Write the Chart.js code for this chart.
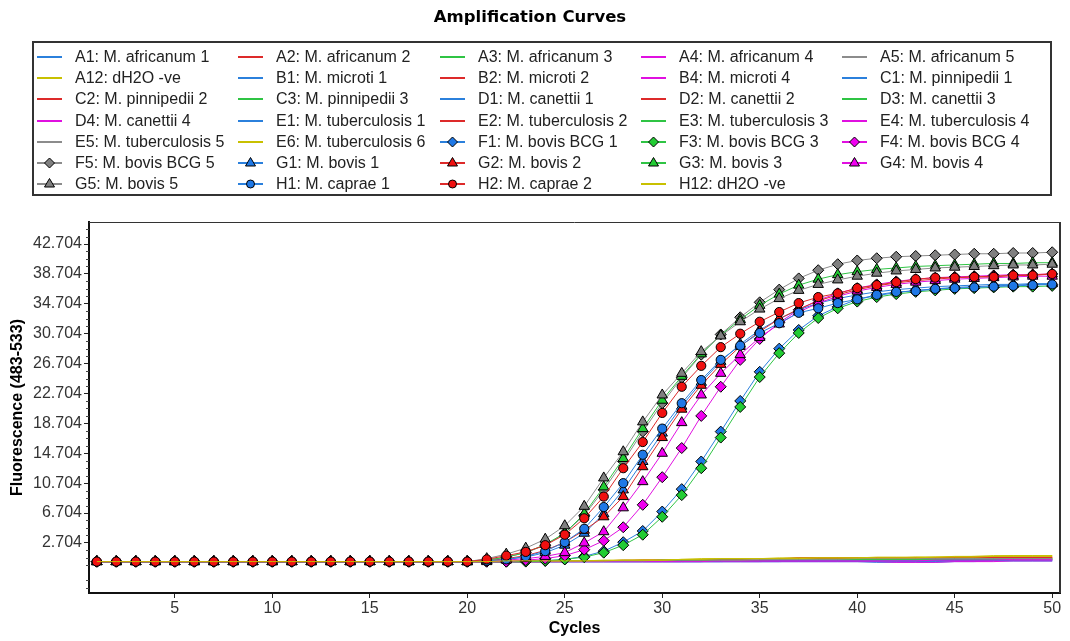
<!DOCTYPE html>
<html lang="en">
<head>
<meta charset="UTF-8">
<title>Amplification Curves</title>
<script src="https://cdn.jsdelivr.net/npm/chart.js"></script>
<style>
    body {
        margin: 0;
        background: #fff;
        font-family: 'Liberation Sans', Arial, sans-serif;
    }
    .wrap {
        position: relative;
        width: 1070px;
        height: 641px;
    }
    #chart {
        position: absolute;
        left: 0;
        top: 0;
    }
    .legend {
        position: absolute;
        left: 32px;
        top: 41px;
        width: 1020px;
        height: 155px;
        border: 2px solid #333;
        box-sizing: border-box;
    }
    .legend-item {
        position: absolute;
        height: 20px;
        line-height: 20px;
        font-size: 16px;
        color: #222;
        white-space: nowrap;
    }
    .legend-item canvas {
        position: absolute;
        left: 0;
        top: 3px;
    }
    .legend-item span {
        position: absolute;
        left: 38px;
        top: 0;
    }
</style>
</head>
<body>
<div class="wrap">
    <canvas id="chart" width="1070" height="641"></canvas>
    <div class="legend" id="legend"></div>
</div>

<script>
// cycles on the x axis
const cycles = [1,2,3,4,5,6,7,8,9,10,11,12,13,14,15,16,17,18,19,20,
                21,22,23,24,25,26,27,28,29,30,31,32,33,34,35,36,37,38,39,40,
                41,42,43,44,45,46,47,48,49,50];
const xTicks = [5, 10, 15, 20, 25, 30, 35, 40, 45, 50];
const yTicks = [2.704, 6.704, 10.704, 14.704, 18.704, 22.704, 26.704, 30.704, 34.704, 38.704, 42.704];

// negative / non-bovis samples (flat lines)
const a1 = [0.2,0.2,0.2,0.2,0.2,0.2,0.2,0.2,0.2,0.2, 0.2,0.2,0.2,0.2,0.2,0.2,0.2,0.2,0.2,0.2,
            0.2,0.2,0.2,0.2,0.2,0.2,0.2,0.2,0.2,0.2, 0.2,0.2,0.2,0.3,0.3,0.3,0.3,0.3,0.3,0.3,
            0.3,0.3,0.3,0.3,0.4,0.4,0.4,0.4,0.4,0.4];
const a2 = [0.2,0.2,0.2,0.2,0.2,0.2,0.2,0.2,0.2,0.2, 0.2,0.2,0.2,0.2,0.2,0.2,0.2,0.2,0.2,0.2,
            0.2,0.2,0.2,0.2,0.3,0.3,0.3,0.3,0.3,0.3, 0.4,0.4,0.4,0.4,0.5,0.5,0.6,0.7,0.7,0.7,
            0.7,0.7,0.7,0.7,0.7,0.7,0.7,0.7,0.7,0.7];
const a3 = [0.2,0.2,0.2,0.2,0.2,0.2,0.2,0.2,0.2,0.2, 0.2,0.2,0.2,0.2,0.2,0.2,0.2,0.2,0.2,0.2,
            0.2,0.2,0.2,0.2,0.2,0.3,0.3,0.3,0.3,0.3, 0.3,0.3,0.3,0.4,0.4,0.4,0.4,0.4,0.4,0.4,
            0.4,0.5,0.5,0.5,0.5,0.5,0.5,0.5,0.5,0.5];
const a4 = [0.2,0.2,0.2,0.2,0.2,0.2,0.2,0.2,0.2,0.2, 0.2,0.2,0.2,0.2,0.2,0.2,0.2,0.2,0.2,0.2,
            0.2,0.2,0.2,0.2,0.2,0.2,0.2,0.2,0.2,0.2, 0.2,0.2,0.2,0.2,0.2,0.3,0.3,0.3,0.3,0.3,
            0.3,0.2,0.2,0.3,0.3,0.3,0.4,0.4,0.4,0.4];
const a5 = [0.2,0.2,0.2,0.2,0.2,0.2,0.2,0.2,0.2,0.2, 0.2,0.2,0.2,0.2,0.2,0.2,0.2,0.2,0.2,0.2,
            0.2,0.2,0.2,0.2,0.3,0.3,0.3,0.3,0.3,0.4, 0.4,0.4,0.4,0.4,0.4,0.5,0.5,0.5,0.5,0.5,
            0.5,0.5,0.6,0.6,0.6,0.6,0.6,0.6,0.6,0.6];
const a12 = [0.2,0.2,0.2,0.2,0.2,0.2,0.2,0.2,0.2,0.2, 0.2,0.2,0.2,0.2,0.2,0.2,0.2,0.2,0.2,0.2,
             0.2,0.2,0.3,0.3,0.3,0.3,0.3,0.3,0.4,0.4, 0.4,0.5,0.6,0.6,0.6,0.6,0.7,0.7,0.7,0.7,
             0.7,0.7,0.8,0.8,0.8,0.9,0.9,1.0,1.0,1.0];
const b1 = [0.2,0.2,0.2,0.2,0.2,0.2,0.2,0.2,0.2,0.2, 0.2,0.2,0.2,0.2,0.2,0.2,0.2,0.2,0.2,0.2,
            0.2,0.2,0.2,0.2,0.2,0.2,0.2,0.2,0.2,0.2, 0.2,0.2,0.2,0.2,0.2,0.2,0.2,0.2,0.2,0.2,
            0.2,0.2,0.2,0.2,0.3,0.3,0.3,0.3,0.3,0.3];
const b2 = [0.2,0.2,0.2,0.2,0.2,0.2,0.2,0.2,0.2,0.2, 0.2,0.2,0.2,0.2,0.2,0.2,0.2,0.2,0.2,0.2,
            0.2,0.2,0.2,0.3,0.3,0.3,0.3,0.3,0.4,0.4, 0.4,0.4,0.4,0.5,0.5,0.6,0.7,0.7,0.7,0.7,
            0.7,0.7,0.7,0.7,0.8,0.8,0.8,0.8,0.8,0.8];
const b4 = [0.2,0.2,0.2,0.2,0.2,0.2,0.2,0.2,0.2,0.2, 0.2,0.2,0.2,0.2,0.2,0.2,0.2,0.2,0.2,0.2,
            0.2,0.2,0.2,0.2,0.2,0.2,0.2,0.2,0.2,0.2, 0.2,0.3,0.3,0.3,0.3,0.3,0.3,0.3,0.3,0.3,
            0.3,0.3,0.4,0.4,0.4,0.4,0.5,0.5,0.5,0.5];
const c1 = [0.2,0.2,0.2,0.2,0.2,0.2,0.2,0.2,0.2,0.2, 0.2,0.2,0.2,0.2,0.2,0.2,0.2,0.2,0.2,0.2,
            0.2,0.2,0.2,0.2,0.2,0.2,0.2,0.2,0.2,0.2, 0.2,0.2,0.2,0.2,0.2,0.2,0.3,0.3,0.3,0.3,
            0.3,0.3,0.3,0.3,0.3,0.4,0.4,0.4,0.4,0.4];
const c2 = [0.2,0.2,0.2,0.2,0.2,0.2,0.2,0.2,0.2,0.2, 0.2,0.2,0.2,0.2,0.2,0.2,0.2,0.2,0.2,0.2,
            0.2,0.2,0.2,0.2,0.2,0.3,0.3,0.3,0.3,0.3, 0.3,0.4,0.4,0.4,0.4,0.5,0.6,0.6,0.6,0.6,
            0.6,0.6,0.6,0.6,0.7,0.7,0.7,0.7,0.7,0.7];
const c3 = [0.2,0.2,0.2,0.2,0.2,0.2,0.2,0.2,0.2,0.2, 0.2,0.2,0.2,0.2,0.2,0.2,0.2,0.2,0.2,0.2,
            0.2,0.2,0.2,0.3,0.3,0.3,0.3,0.3,0.3,0.3, 0.4,0.4,0.4,0.4,0.4,0.4,0.5,0.5,0.5,0.5,
            0.5,0.5,0.5,0.5,0.6,0.6,0.6,0.6,0.6,0.6];
const d1 = [0.2,0.2,0.2,0.2,0.2,0.2,0.2,0.2,0.2,0.2, 0.2,0.2,0.2,0.2,0.2,0.2,0.2,0.2,0.2,0.2,
            0.2,0.2,0.2,0.2,0.2,0.2,0.2,0.2,0.2,0.2, 0.2,0.2,0.2,0.2,0.2,0.2,0.2,0.2,0.2,0.2,
            0.1,0.1,0.1,0.1,0.2,0.2,0.3,0.3,0.3,0.3];
const d2 = [0.2,0.2,0.2,0.2,0.2,0.2,0.2,0.2,0.2,0.2, 0.2,0.2,0.2,0.2,0.2,0.2,0.2,0.2,0.2,0.2,
            0.2,0.2,0.2,0.2,0.3,0.3,0.3,0.3,0.3,0.4, 0.4,0.4,0.4,0.4,0.4,0.5,0.7,0.7,0.7,0.7,
            0.7,0.7,0.7,0.7,0.7,0.8,0.8,0.8,0.8,0.8];
const d3 = [0.2,0.2,0.2,0.2,0.2,0.2,0.2,0.2,0.2,0.2, 0.2,0.2,0.2,0.2,0.2,0.2,0.2,0.2,0.2,0.2,
            0.2,0.2,0.2,0.2,0.3,0.3,0.3,0.3,0.3,0.3, 0.3,0.3,0.3,0.3,0.4,0.4,0.4,0.4,0.4,0.4,
            0.4,0.4,0.4,0.5,0.5,0.5,0.5,0.5,0.5,0.5];
const d4 = [0.2,0.2,0.2,0.2,0.2,0.2,0.2,0.2,0.2,0.2, 0.2,0.2,0.2,0.2,0.2,0.2,0.2,0.2,0.2,0.2,
            0.2,0.2,0.2,0.2,0.2,0.2,0.2,0.2,0.2,0.2, 0.2,0.2,0.2,0.2,0.2,0.2,0.2,0.2,0.2,0.2,
            0.2,0.1,0.1,0.1,0.2,0.2,0.2,0.3,0.3,0.3];
const e1 = [0.2,0.2,0.2,0.2,0.2,0.2,0.2,0.2,0.2,0.2, 0.2,0.2,0.2,0.2,0.2,0.2,0.2,0.2,0.2,0.2,
            0.2,0.2,0.2,0.2,0.2,0.2,0.2,0.2,0.2,0.2, 0.2,0.2,0.3,0.3,0.3,0.3,0.3,0.3,0.3,0.3,
            0.3,0.3,0.4,0.4,0.4,0.4,0.4,0.5,0.5,0.5];
const e2 = [0.2,0.2,0.2,0.2,0.2,0.2,0.2,0.2,0.2,0.2, 0.2,0.2,0.2,0.2,0.2,0.2,0.2,0.2,0.2,0.2,
            0.2,0.2,0.3,0.3,0.3,0.3,0.3,0.4,0.4,0.4, 0.4,0.4,0.4,0.4,0.5,0.5,0.6,0.7,0.7,0.7,
            0.7,0.7,0.7,0.7,0.7,0.7,0.7,0.7,0.7,0.7];
const e3 = [0.2,0.2,0.2,0.2,0.2,0.2,0.2,0.2,0.2,0.2, 0.2,0.2,0.2,0.2,0.2,0.2,0.2,0.2,0.2,0.2,
            0.2,0.2,0.2,0.3,0.3,0.3,0.3,0.3,0.3,0.4, 0.4,0.4,0.4,0.4,0.4,0.5,0.5,0.5,0.5,0.5,
            0.5,0.5,0.5,0.5,0.6,0.6,0.6,0.6,0.6,0.6];
const e4 = [0.2,0.2,0.2,0.2,0.2,0.2,0.2,0.2,0.2,0.2, 0.2,0.2,0.2,0.2,0.2,0.2,0.2,0.2,0.2,0.2,
            0.2,0.2,0.2,0.2,0.2,0.2,0.2,0.2,0.2,0.2, 0.2,0.2,0.3,0.3,0.3,0.3,0.3,0.3,0.3,0.3,
            0.3,0.3,0.3,0.4,0.4,0.4,0.4,0.5,0.5,0.5];
const e5 = [0.2,0.2,0.2,0.2,0.2,0.2,0.2,0.2,0.2,0.2, 0.2,0.2,0.2,0.2,0.2,0.2,0.2,0.2,0.2,0.2,
            0.2,0.2,0.2,0.3,0.3,0.3,0.3,0.3,0.3,0.4, 0.4,0.4,0.4,0.4,0.5,0.5,0.5,0.5,0.5,0.6,
            0.6,0.6,0.6,0.6,0.6,0.6,0.6,0.6,0.6,0.6];
const e6 = [0.2,0.2,0.2,0.2,0.2,0.2,0.2,0.2,0.2,0.2, 0.2,0.2,0.2,0.2,0.2,0.2,0.2,0.2,0.2,0.2,
            0.2,0.2,0.3,0.3,0.3,0.3,0.3,0.4,0.4,0.4, 0.5,0.6,0.6,0.6,0.6,0.6,0.6,0.7,0.7,0.7,
            0.7,0.7,0.7,0.8,0.8,0.8,0.9,0.9,0.9,0.9];
const h12 = [0.2,0.2,0.2,0.2,0.2,0.2,0.2,0.2,0.2,0.2, 0.2,0.2,0.2,0.2,0.2,0.2,0.2,0.2,0.2,0.2,
             0.2,0.3,0.3,0.3,0.3,0.3,0.4,0.4,0.4,0.4, 0.5,0.5,0.6,0.6,0.6,0.7,0.7,0.7,0.7,0.7,
             0.8,0.8,0.8,0.8,0.9,0.9,1.0,1.0,1.0,1.0];

// bovis samples (amplification curves with markers)
const f1 = [0.2,0.2,0.2,0.2,0.2,0.2,0.2,0.2,0.2,0.2, 0.2,0.2,0.2,0.2,0.2,0.2,0.2,0.2,0.2,0.2,
            0.2,0.2,0.25,0.3,0.5,0.9,1.6,2.8,4.3,6.9, 9.9,13.6,17.6,21.7,25.6,28.7,31.2,33.1,34.3,35.3,
            35.8,36.2,36.5,36.7,36.9,37.0,37.1,37.2,37.3,37.3];
const f3 = [0.2,0.2,0.2,0.2,0.2,0.2,0.2,0.2,0.2,0.2, 0.2,0.2,0.2,0.2,0.2,0.2,0.2,0.2,0.2,0.2,
            0.2,0.2,0.2,0.3,0.5,0.8,1.4,2.4,3.8,6.2, 9.1,12.7,16.8,20.9,24.9,28.1,30.8,32.8,34.1,35.0,
            35.6,36.0,36.3,36.5,36.7,36.8,36.9,37.0,37.0,37.1];
const f4 = [0.2,0.2,0.2,0.2,0.2,0.2,0.2,0.2,0.2,0.2, 0.2,0.2,0.2,0.2,0.2,0.2,0.2,0.2,0.2,0.2,
            0.2,0.2,0.4,0.6,1.0,1.8,3.0,4.8,7.8,11.5, 15.4,19.7,23.6,27.2,30.0,32.2,33.9,35.2,36.1,36.8,
            37.3,37.7,38.0,38.2,38.3,38.4,38.5,38.6,38.6,38.7];
const f5 = [0.2,0.2,0.2,0.2,0.2,0.2,0.2,0.2,0.2,0.2, 0.2,0.2,0.2,0.2,0.2,0.2,0.2,0.2,0.2,0.2,
            0.4,0.8,1.4,2.4,4.0,6.4,9.8,13.6,17.6,21.4, 24.8,27.9,30.6,32.9,34.9,36.6,38.1,39.2,40.0,40.5,
            40.8,41.0,41.1,41.2,41.3,41.4,41.4,41.5,41.5,41.6];
const g1 = [0.2,0.2,0.2,0.2,0.2,0.2,0.2,0.2,0.2,0.2, 0.2,0.2,0.2,0.2,0.2,0.2,0.2,0.2,0.2,0.2,
            0.3,0.5,0.8,1.4,2.4,4.0,6.6,9.8,13.6,17.4, 21.0,24.2,27.0,29.3,31.2,32.7,33.9,34.8,35.4,35.9,
            36.3,36.6,36.8,37.0,37.1,37.2,37.3,37.3,37.4,37.4];
const g2 = [0.2,0.2,0.2,0.2,0.2,0.2,0.2,0.2,0.2,0.2, 0.2,0.2,0.2,0.2,0.2,0.2,0.2,0.2,0.2,0.2,
            0.3,0.6,1.0,1.7,2.8,4.4,6.2,8.9,12.9,16.8, 20.6,23.8,26.6,29.0,31.0,32.7,34.0,35.1,35.9,36.6,
            37.1,37.5,37.8,38.0,38.2,38.3,38.4,38.5,38.6,38.7];
const g3 = [0.2,0.2,0.2,0.2,0.2,0.2,0.2,0.2,0.2,0.2, 0.2,0.2,0.2,0.2,0.2,0.2,0.2,0.2,0.2,0.2,
            0.4,0.8,1.4,2.5,4.0,6.6,10.2,14.0,18.0,21.8, 25.0,28.0,30.5,32.6,34.5,36.0,37.2,38.0,38.6,39.0,
            39.3,39.5,39.7,39.8,39.9,40.0,40.1,40.1,40.2,40.2];
const g4 = [0.2,0.2,0.2,0.2,0.2,0.2,0.2,0.2,0.2,0.2, 0.2,0.2,0.2,0.2,0.2,0.2,0.2,0.2,0.2,0.2,
            0.2,0.4,0.6,0.9,1.4,2.7,4.2,7.4,10.9,14.7, 18.8,22.5,25.4,27.9,30.2,32.0,33.6,34.8,35.7,36.4,
            36.9,37.3,37.6,37.8,38.0,38.1,38.2,38.3,38.4,38.4];
const g5 = [0.2,0.2,0.2,0.2,0.2,0.2,0.2,0.2,0.2,0.2, 0.2,0.2,0.2,0.2,0.2,0.2,0.2,0.2,0.2,0.2,
            0.6,1.2,2.0,3.2,5.0,7.6,11.4,14.9,18.9,22.5, 25.4,28.3,30.4,32.3,34.0,35.4,36.5,37.3,37.9,38.4,
            38.8,39.1,39.3,39.5,39.6,39.7,39.8,39.9,39.9,40.0];
const h1 = [0.2,0.2,0.2,0.2,0.2,0.2,0.2,0.2,0.2,0.2, 0.2,0.2,0.2,0.2,0.2,0.2,0.2,0.2,0.2,0.2,
            0.3,0.5,0.9,1.6,2.8,4.6,7.5,10.7,14.5,18.0, 21.4,24.5,27.2,29.1,30.8,32.1,33.5,34.1,34.8,35.3,
            35.9,36.3,36.4,36.7,36.8,36.9,37.0,37.1,37.2,37.3];
const h2 = [0.2,0.2,0.2,0.2,0.2,0.2,0.2,0.2,0.2,0.2, 0.2,0.2,0.2,0.2,0.2,0.2,0.2,0.2,0.2,0.2,
            0.5,1.0,1.5,2.4,3.8,6.0,8.9,12.7,16.2,20.1, 23.6,26.4,28.9,30.7,32.3,33.6,34.8,35.6,36.1,36.8,
            37.2,37.6,38.0,38.2,38.2,38.3,38.3,38.5,38.5,38.7];

const seriesLabels = [
    'A1: M. africanum 1', 'A2: M. africanum 2', 'A3: M. africanum 3', 'A4: M. africanum 4', 'A5: M. africanum 5',
    'A12: dH2O -ve', 'B1: M. microti 1', 'B2: M. microti 2', 'B4: M. microti 4', 'C1: M. pinnipedii 1',
    'C2: M. pinnipedii 2', 'C3: M. pinnipedii 3', 'D1: M. canettii 1', 'D2: M. canettii 2', 'D3: M. canettii 3',
    'D4: M. canettii 4', 'E1: M. tuberculosis 1', 'E2: M. tuberculosis 2', 'E3: M. tuberculosis 3', 'E4: M. tuberculosis 4',
    'E5: M. tuberculosis 5', 'E6: M. tuberculosis 6', 'F1: M. bovis BCG 1', 'F3: M. bovis BCG 3', 'F4: M. bovis BCG 4',
    'F5: M. bovis BCG 5', 'G1: M. bovis 1', 'G2: M. bovis 2', 'G3: M. bovis 3', 'G4: M. bovis 4',
    'G5: M. bovis 5', 'H1: M. caprae 1', 'H2: M. caprae 2', 'H12: dH2O -ve'
];
const seriesValues = [a1, a2, a3, a4, a5, a12, b1, b2, b4, c1, c2, c3, d1, d2, d3, d4,
                      e1, e2, e3, e4, e5, e6, f1, f3, f4, f5, g1, g2, g3, g4, g5, h1, h2, h12];
const seriesColors = [
    'blue', 'red', 'green', 'magenta', 'gray',
    'yellow', 'blue', 'red', 'magenta', 'blue',
    'red', 'green', 'blue', 'red', 'green',
    'magenta', 'blue', 'red', 'green', 'magenta',
    'gray', 'yellow', 'blue', 'green', 'magenta',
    'gray', 'blue', 'red', 'green', 'magenta',
    'gray', 'blue', 'red', 'yellow'
];
const seriesMarkers = [
    'none', 'none', 'none', 'none', 'none',
    'none', 'none', 'none', 'none', 'none',
    'none', 'none', 'none', 'none', 'none',
    'none', 'none', 'none', 'none', 'none',
    'none', 'none', 'diamond', 'diamond', 'diamond',
    'diamond', 'triangle', 'triangle', 'triangle', 'triangle',
    'triangle', 'circle', 'circle', 'none'
];

const lineColor = { blue: '#2b80dc', red: '#dd2a2a', green: '#2fc444', magenta: '#e010e0', gray: '#8c8c8c', yellow: '#c8c000' };
const fillColor = { blue: '#1f78e6', red: '#f01010', green: '#22cc33', magenta: '#f000f0', gray: '#808080', yellow: '#d0d000' };
const chartStyle = { diamond: 'rectRot', triangle: 'triangle', circle: 'circle' };
const markerRadius = { diamond: 5.5, triangle: 6, circle: 4.6 };

const N = seriesLabels.length;
const datasets = seriesLabels.map((label, i) => {
    const m = seriesMarkers[i];
    const col = seriesColors[i];
    return {
        label: label,
        data: seriesValues[i],
        borderColor: lineColor[col],
        borderWidth: 1,
        backgroundColor: fillColor[col],
        pointStyle: m === 'none' ? false : chartStyle[m],
        pointRadius: m === 'none' ? 0 : markerRadius[m],
        pointBackgroundColor: fillColor[col],
        pointBorderColor: '#000',
        pointBorderWidth: 1,
        tension: 0,
        fill: false,
        order: N - i
    };
});

// plot frame (top/right) and minor y ticks
const framePlugin = {
    id: 'frame',
    afterDraw(chart) {
        const { ctx, chartArea: a, scales: { y } } = chart;
        ctx.save();
        ctx.strokeStyle = '#333';
        ctx.lineWidth = 1;
        ctx.beginPath();
        ctx.moveTo(a.left, a.top + 0.5);
        ctx.lineTo(a.right, a.top + 0.5);
        ctx.stroke();
        ctx.lineWidth = 2;
        ctx.beginPath();
        ctx.moveTo(a.right, a.top);
        ctx.lineTo(a.right, a.bottom);
        ctx.stroke();
        ctx.strokeStyle = '#444';
        ctx.lineWidth = 1;
        ctx.beginPath();
        for (let k = -6; k <= 42; k++) {
            if (k % 4 === 0) continue;
            const v = 2.704 + k;
            if (v < y.min || v > y.max) continue;
            const py = Math.round(y.getPixelForValue(v)) + 0.5;
            ctx.moveTo(a.left - 3, py);
            ctx.lineTo(a.left, py);
        }
        ctx.stroke();
        ctx.restore();
    }
};

new Chart(document.getElementById('chart'), {
    type: 'line',
    data: { labels: cycles, datasets: datasets },
    options: {
        responsive: false,
        animation: false,
        layout: { padding: { left: 0, right: 10, top: 0, bottom: 0 } },
        plugins: {
            legend: { display: false },
            tooltip: { enabled: false },
            title: {
                display: true,
                text: 'Amplification Curves',
                color: '#000',
                font: { family: 'DejaVu Sans', size: 16.5, weight: 'bold' },
                padding: { top: 8, bottom: 194.2 }
            }
        },
        scales: {
            x: {
                type: 'linear',
                min: 0.6,
                max: 50.4,
                afterBuildTicks: s => { s.ticks = xTicks.map(v => ({ value: v })); },
                afterFit: s => { s.height = 48; },
                grid: { drawOnChartArea: false, drawTicks: true, tickLength: 5, tickColor: '#222' },
                border: { display: true, color: '#111', width: 2 },
                ticks: {
                    color: '#333',
                    padding: 1,
                    maxRotation: 0,
                    autoSkip: false,
                    font: { family: 'Liberation Sans', size: 16 }
                },
                title: {
                    display: true,
                    text: 'Cycles',
                    color: '#000',
                    font: { family: 'Liberation Sans', size: 16, weight: 'bold' },
                    padding: { top: 0, bottom: 3 }
                }
            },
            y: {
                min: -4.0,
                max: 45.65,
                afterBuildTicks: s => { s.ticks = yTicks.map(v => ({ value: v })); },
                afterFit: s => { s.width = 89; },
                grid: { drawOnChartArea: false, drawTicks: true, tickLength: 5, tickColor: '#222' },
                border: { display: true, color: '#111', width: 2 },
                ticks: {
                    color: '#333',
                    padding: 2,
                    autoSkip: false,
                    font: { family: 'Liberation Sans', size: 16 },
                    callback: v => v.toFixed(3)
                },
                title: {
                    display: true,
                    text: 'Fluorescence (483-533)',
                    color: '#000',
                    font: { family: 'Liberation Sans', size: 16, weight: 'bold' },
                    padding: { top: 8, bottom: 0 }
                }
            }
        }
    },
    plugins: [framePlugin]
});

// legend box: 5 columns
function drawSymbol(cv, col, marker) {
    const ctx = cv.getContext('2d');
    const cy = 7;
    ctx.strokeStyle = lineColor[col];
    ctx.lineWidth = 2;
    ctx.beginPath();
    ctx.moveTo(0, cy);
    ctx.lineTo(25, cy);
    ctx.stroke();
    if (marker === 'none') return;
    const cx = 12.5;
    ctx.fillStyle = fillColor[col];
    ctx.strokeStyle = '#000';
    ctx.lineWidth = 1;
    ctx.beginPath();
    if (marker === 'diamond') {
        ctx.moveTo(cx - 5, cy); ctx.lineTo(cx, cy - 5); ctx.lineTo(cx + 5, cy); ctx.lineTo(cx, cy + 5);
        ctx.closePath();
    } else if (marker === 'triangle') {
        ctx.moveTo(cx, cy - 5.5); ctx.lineTo(cx + 5, cy + 3); ctx.lineTo(cx - 5, cy + 3);
        ctx.closePath();
    } else {
        ctx.arc(cx, cy, 4, 0, Math.PI * 2);
    }
    ctx.fill();
    ctx.stroke();
}

const legendEl = document.getElementById('legend');
seriesLabels.forEach((label, i) => {
    const col = i % 5;
    const row = Math.floor(i / 5);
    const item = document.createElement('div');
    item.className = 'legend-item';
    item.style.left = (3 + Math.round(col * 201.3)) + 'px';
    item.style.top = (4 + Math.round(row * 21.2)) + 'px';
    const cv = document.createElement('canvas');
    cv.width = 26;
    cv.height = 15;
    drawSymbol(cv, seriesColors[i], seriesMarkers[i]);
    const span = document.createElement('span');
    span.textContent = label;
    item.appendChild(cv);
    item.appendChild(span);
    legendEl.appendChild(item);
});
</script>
</body>
</html>
